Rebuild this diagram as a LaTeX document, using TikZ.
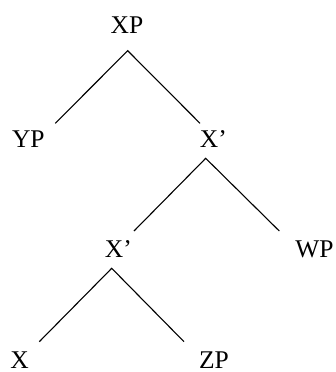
\documentclass[tikz,border=0pt]{standalone}
\usepackage{fontspec}
\setmainfont{Liberation Serif}
\begin{document}
\begin{tikzpicture}[x=1pt,y=-1pt,
  lbl/.style={anchor=base,inner sep=0pt,text depth=0pt,font=\fontsize{25.5}{30}\selectfont},
  branch/.style={draw=black,line width=1.1pt}]
\useasboundingbox (0,0) rectangle (336,372);
% labels
\node[lbl] (xp)  at (127,33.3)  {XP};
\node[lbl] (yp)  at (28.3,147.3) {YP};
\node[lbl] (xb1) at (213.4,147) {X’};
\node[lbl] (xb2) at (118.4,257.5) {X’};
\node[lbl] (wp)  at (314.5,257.5) {WP};
\node[lbl] (x)   at (19.5,368.8) {X};
\node[lbl] (zp)  at (214,368.8) {ZP};
% branch end points
\coordinate (xpA)  at (127.7,50.7);
\coordinate (ypE)  at (55.3,123.3);
\coordinate (xb1E) at (200,123.3);
\coordinate (xb1A) at (205.7,158.3);
\coordinate (xb2E) at (134,231);
\coordinate (wpE)  at (279.3,231);
\coordinate (xb2A) at (111.7,268.3);
\coordinate (xE)   at (39.3,341.7);
\coordinate (zpE)  at (184,341.7);
% branches
\draw[branch] (ypE) -- (xpA) -- (xb1E);
\draw[branch] (xb2E) -- (xb1A) -- (wpE);
\draw[branch] (xE) -- (xb2A) -- (zpE);
\end{tikzpicture}
\end{document}
